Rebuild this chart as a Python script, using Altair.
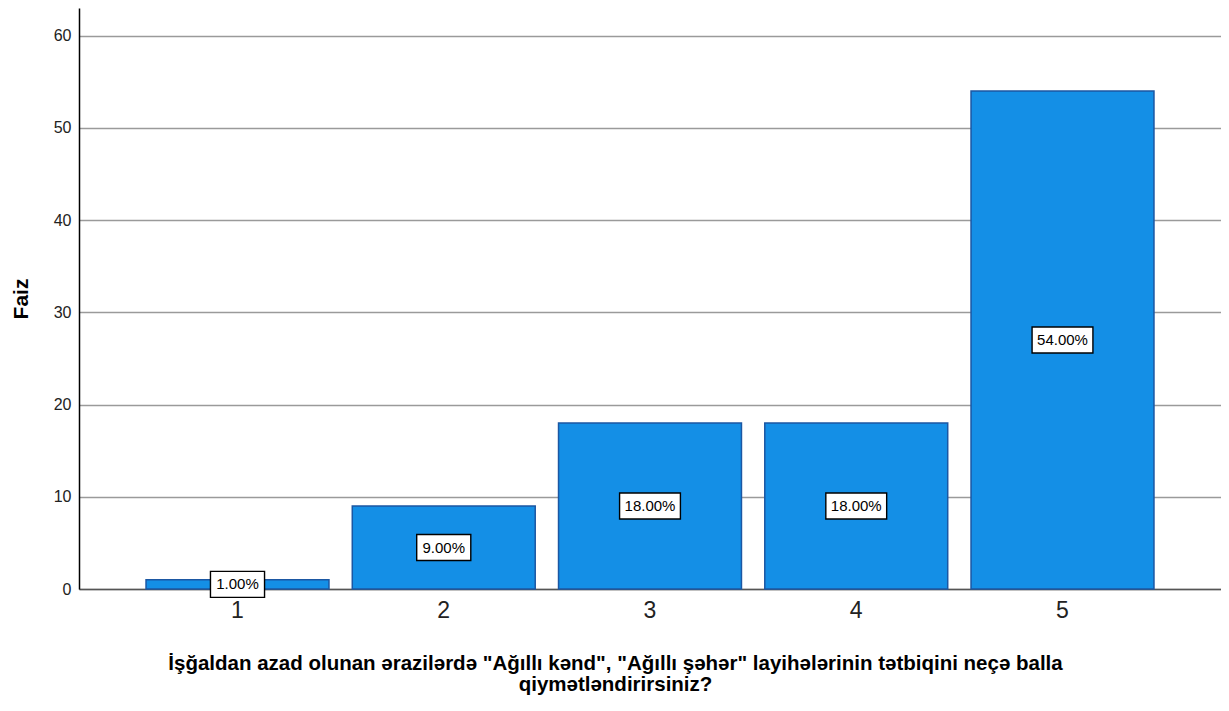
import altair as alt
import pandas as pd

categories = ["1", "2", "3", "4", "5"]
values = [1.0, 9.0, 18.0, 18.0, 54.0]
labels = ["1.00%", "9.00%", "18.00%", "18.00%", "54.00%"]
y_ticks = [0, 10, 20, 30, 40, 50, 60]
x_title = ["İşğaldan azad olunan ərazilərdə \"Ağıllı kənd\", \"Ağıllı şəhər\" layihələrinin tətbiqini neçə balla",
           "qiymətləndirirsiniz?"]
y_title = "Faiz"

df = pd.DataFrame({"cat": categories, "val": values, "lab": labels})
df["mid"] = df["val"] / 2
df["len"] = df["lab"].str.len()

path5 = "M-1.04,-0.5H1.04V0.5H-1.04Z"
path6 = "M-1.17,-0.5H1.17V0.5H-1.17Z"

FONT = "Liberation Sans"

x_enc = alt.X("cat:N", sort=categories,
              scale=alt.Scale(paddingInner=0.113, paddingOuter=0.325),
              axis=alt.Axis(title=x_title, labelAngle=0, ticks=False,
                            labelFontSize=23, labelColor="#222222", labelFont=FONT,
                            labelPadding=10, domainColor="#555555", domainWidth=1.5,
                            titleFont=FONT, titleFontSize=20.5, titleFontWeight="bold",
                            titleColor="#000000", titlePadding=31, titleLineHeight=21,
                            titleX=536))

bars = alt.Chart(df).mark_bar(color="#148fe6", stroke="#1b57a3", strokeWidth=1.5).encode(
    x=x_enc,
    y=alt.Y("val:Q", scale=alt.Scale(domain=[0, 63], nice=False),
            axis=alt.Axis(title=y_title, values=y_ticks, ticks=False, labelFontSize=16,
                          labelFont=FONT, labelColor="#222222", labelPadding=8,
                          domainColor="#000000", domainWidth=1.5,
                          grid=True, gridColor="#9a9a9a", gridWidth=1.5,
                          titleFont=FONT, titleFontSize=21, titleFontWeight="bold",
                          titleColor="#000000", titlePadding=22))
)

boxes = alt.Chart(df).mark_point(filled=True, fill="white", stroke="black",
                                 strokeWidth=1.4, opacity=1, size=2704).encode(
    x=alt.X("cat:N", sort=categories),
    y=alt.Y("mid:Q"),
    shape=alt.Shape("len:N", scale=alt.Scale(domain=[5, 6], range=[path5, path6]), legend=None),
)

texts = alt.Chart(df).mark_text(font=FONT, fontSize=15, color="black").encode(
    x=alt.X("cat:N", sort=categories),
    y=alt.Y("mid:Q"),
    text="lab:N",
)

chart = alt.layer(bars, boxes, texts).properties(
    width=1142, height=581,
    autosize=alt.AutoSizeParams(type="none"),
    padding={"left": 71, "top": 0, "right": 0, "bottom": 110},
).configure_view(stroke=None).configure_axis(gridDash=[])

chart.save("out.html", embed_options={"renderer": "svg", "actions": False})
